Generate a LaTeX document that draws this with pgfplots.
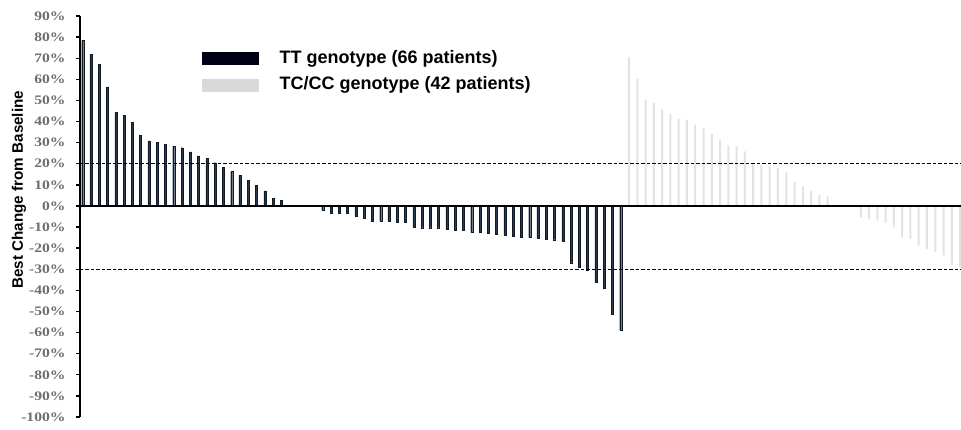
\documentclass[border=0pt]{standalone}
\usepackage{fontspec}
\setmainfont{Liberation Serif}
\setsansfont{Liberation Sans}
\newfontfamily\tickfont[FakeStretch=1.2]{Liberation Serif}
\usepackage{pgfplots}
\usepackage{pgfplotstable}
\pgfplotsset{compat=1.18}
\definecolor{ttbar}{HTML}{2A3B4E}
\definecolor{ttedge}{HTML}{101A24}
\definecolor{tcbar}{HTML}{E3E3E3}
\definecolor{tclegend}{HTML}{D9D9D9}
\definecolor{ticklab}{HTML}{6E6E6E}
\pgfplotstableread{
x y
1 78.5
2 71.9
3 67.1
4 56.4
5 44.2
6 43.0
7 39.5
8 33.6
9 30.8
10 30.0
11 29.2
12 28.4
13 27.6
14 25.6
15 23.7
16 22.4
17 20.5
18 18.2
19 16.3
20 14.5
21 12.1
22 9.9
23 7.1
24 3.6
25 2.8
26 0
27 0
28 0
29 0
30 -2.0
31 -3.3
32 -3.3
33 -3.6
34 -4.7
35 -5.7
36 -7.1
37 -7.1
38 -7.1
39 -7.6
40 -7.9
41 -9.9
42 -10.3
43 -10.3
44 -10.3
45 -11.0
46 -11.5
47 -11.5
48 -12.6
49 -12.6
50 -13.1
51 -13.4
52 -13.9
53 -14.3
54 -14.7
55 -15.0
56 -15.2
57 -15.8
58 -16.0
59 -16.8
60 -26.9
61 -28.9
62 -30.5
63 -36.0
64 -38.8
65 -51.5
66 -58.9
}\ttdata
\pgfplotstableread{
x y
67 70.5
68 60.2
69 50.4
70 48.8
71 46.0
72 43.6
73 41.4
74 40.9
75 38.5
76 37.0
77 34.0
78 31.3
79 28.6
80 28.4
81 25.8
82 20.3
83 19.5
84 18.8
85 18.0
86 15.9
87 11.4
88 9.3
89 7.0
90 5.4
91 4.5
92 0
93 0
94 0
95 -5.5
96 -6.2
97 -7.0
98 -7.8
99 -10.2
100 -14.8
101 -15.6
102 -18.8
103 -20.3
104 -21.9
105 -23.4
106 -28.1
107 -29.0
108 -30.0
}\tcdata
\begin{document}
\begin{tikzpicture}
\useasboundingbox (-80pt,-13pt) rectangle (881pt,417pt);
\begin{axis}[
  at={(0pt,0pt)}, anchor=south west,
  scale only axis, width=881pt, height=401pt,
  xmin=0.674, xmax=107.11, ymin=-100, ymax=90,
  axis x line=none, axis y line=left,
  axis line style={-, line width=1.6pt, black},
  ytick={-100,-90,...,90},
  tick align=outside, major tick length=4pt,
  ytick style={line width=1.4pt, black},
  yticklabel={\pgfmathprintnumber{\tick}\%},
  /pgf/number format/assume math mode=true,
  yticklabel style={font=\tickfont\fontsize{13}{13}\selectfont\bfseries, text=ticklab, xshift=-7pt},
  ylabel={Best Change from Baseline},
  ylabel style={font=\sffamily\bfseries\fontsize{15.2}{15.2}\selectfont, at={(axis description cs:-0.0692,0.567)}, anchor=center},
  legend style={draw=none, fill=none, at={(axis description cs:0.138,0.915)}, anchor=north west,
    inner sep=0pt, outer sep=0pt, row sep=9pt, column sep=21pt,
    nodes={inner sep=0pt, text height=13pt, text depth=4.5pt, font=\sffamily\bfseries\fontsize{18}{18}\selectfont}},
  legend cell align=left,
  legend image code/.code={\fill[#1, draw=none] (0pt,-6.5pt) rectangle (57pt,6.5pt);},
]
\addlegendimage{fill=black!92!blue, draw=none}
\addlegendentry{TT genotype (66 patients)}
\addlegendimage{fill=tclegend, draw=none}
\addlegendentry{TC/CC genotype (42 patients)}
\addplot[ybar, bar width=2.0pt, bar shift=0pt, fill=ttbar, draw=ttedge, line width=0.35pt, forget plot] table[x=x,y=y] {\ttdata};
\addplot[ybar, bar width=2.0pt, bar shift=0pt, fill=tcbar, draw=none, forget plot] table[x=x,y=y] {\tcdata};
\addplot[forget plot, black, line width=1pt, dash pattern=on 3.5pt off 2pt] coordinates {(0.674,20) (107.11,20)};
\addplot[forget plot, black, line width=1pt, dash pattern=on 3.5pt off 2pt] coordinates {(0.674,-30) (107.11,-30)};
\addplot[forget plot, black, line width=2.2pt] coordinates {(0.674,0) (107.11,0)};
\end{axis}
\end{tikzpicture}
\end{document}
